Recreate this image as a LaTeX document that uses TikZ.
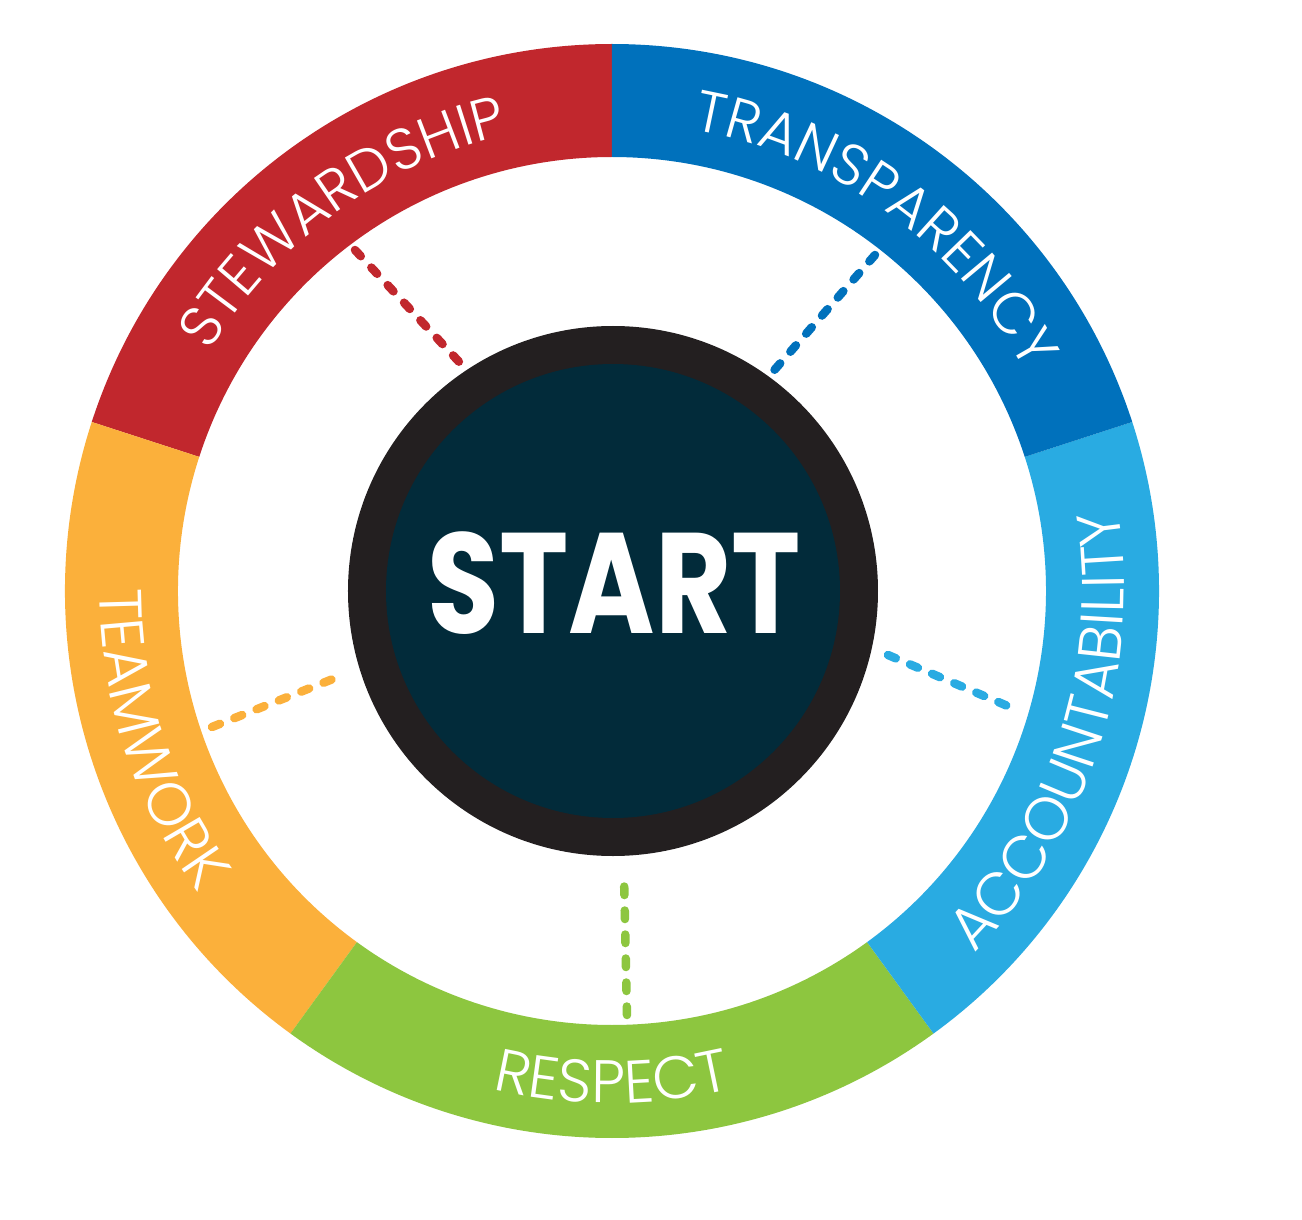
\documentclass[tikz,border=0pt]{standalone}
\usepackage{fontspec}
\usetikzlibrary{decorations.text}
\newfontfamily\ringfont{Poppins Light}
\newfontfamily\startfont{Poppins}
\newcommand\rf{\ringfont\fontsize{58}{58}\selectfont}
\newcommand\rfb{\ringfont\fontsize{60}{60}\selectfont}
\definecolor{cred}{HTML}{C1272D}
\definecolor{cblue}{HTML}{0071BC}
\definecolor{clblue}{HTML}{29ABE2}
\definecolor{cgreen}{HTML}{8DC63F}
\definecolor{corange}{HTML}{FBB03B}
\definecolor{cdark}{HTML}{231F20}
\definecolor{cteal}{HTML}{022B3A}
\begin{document}
\begin{tikzpicture}[x=1pt,y=1pt,
  ringtext/.style={decorate, decoration={text along path, text align=center, text color=white, text={#1}}},
  dashline/.style={draw=#1, line width=8.5pt, line cap=round, dash pattern=on 8.5pt off 15.5pt},
  segfill/.style={fill=#1}]
\fill[white] (-612,-628) rectangle (690,591);
\useasboundingbox (-612,-628) rectangle (690,591);
% ring segments
\fill[cred]    (90:547) arc[start angle=90, end angle=162, radius=547] -- (162:434) arc[start angle=162, end angle=90, radius=434] -- cycle;
\fill[corange] (162:547) arc[start angle=162, end angle=234, radius=547] -- (234:434) arc[start angle=234, end angle=162, radius=434] -- cycle;
\fill[cgreen]  (234:547) arc[start angle=234, end angle=306, radius=547] -- (306:434) arc[start angle=306, end angle=234, radius=434] -- cycle;
\fill[clblue]  (306:547) arc[start angle=306, end angle=378, radius=547] -- (18:434) arc[start angle=378, end angle=306, radius=434] -- cycle;
\fill[cblue]   (18:547) arc[start angle=18, end angle=90, radius=547] -- (90:434) arc[start angle=90, end angle=18, radius=434] -- cycle;
% ring texts
\path[ringtext={|\rf|STEWARDSHIP}] (171:468) arc[start angle=171, end angle=81, radius=468];
\path[ringtext={|\rf|TRANSPARENCY}] (99:468) arc[start angle=99, end angle=9, radius=468];
\path[ringtext={|\rfb|ACCOUNTABILITY}] (297:512) arc[start angle=297, end angle=387, radius=512];
\path[ringtext={|\rfb|RESPECT}] (225:512) arc[start angle=225, end angle=315, radius=512];
\path[ringtext={|\rfb|TEAMWORK}] (153:512) arc[start angle=153, end angle=243, radius=512];
% center
\node[circle, fill=cdark, minimum size=530pt, inner sep=0pt] (hub) at (1,0) {};
\node[circle, fill=cteal, minimum size=454pt, inner sep=0pt] (core) at (hub.center) {};
\node[text=white, inner sep=0pt] (start) at (2,8) {\scalebox{0.82}[1]{\startfont\bfseries\fontsize{143}{143}\selectfont START}};
% dashed spokes
\coordinate (r1) at (-257,341); \coordinate (r2) at (-150,226);
\coordinate (b1) at (263,336);  \coordinate (b2) at (158,216);
\coordinate (l1) at (405,-119); \coordinate (l2) at (276,-64);
\coordinate (g1) at (15,-424);  \coordinate (g2) at (12,-285);
\coordinate (o1) at (-400,-136);\coordinate (o2) at (-269,-84);
\draw[dashline=cred] (r1) -- (r2);
\draw[dashline=cblue] (b1) -- (b2);
\draw[dashline=clblue] (l2) -- (l1);
\draw[dashline=cgreen] (g1) -- (g2);
\draw[dashline=corange] (o1) -- (o2);
\end{tikzpicture}
\end{document}
